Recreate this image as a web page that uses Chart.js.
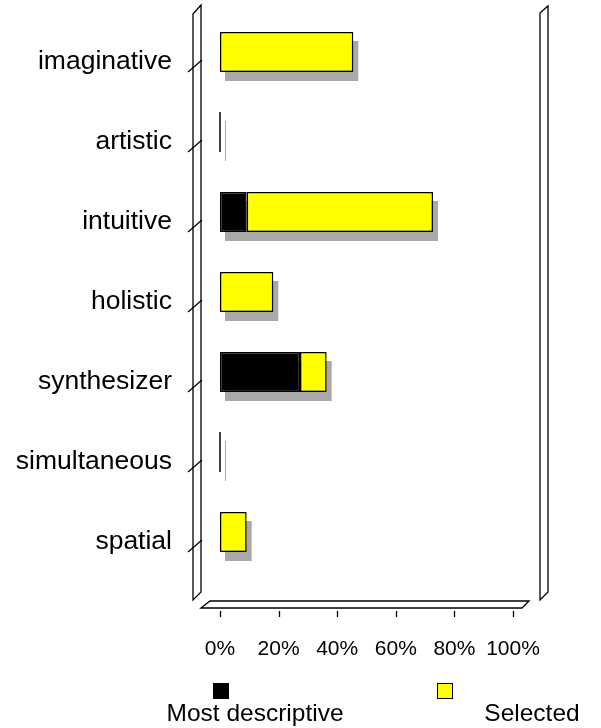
<!DOCTYPE html>
<html>
<head>
<meta charset="utf-8">
<script src="https://cdn.jsdelivr.net/npm/chart.js@4.4.0/dist/chart.umd.min.js"></script>
<style>
  html, body { margin: 0; padding: 0; background: #fff; }
  #wrap { width: 601px; height: 728px; }
</style>
</head>
<body>
<div id="wrap"><canvas id="chart"></canvas></div>
<script>
// data
const categories = ['imaginative', 'artistic', 'intuitive', 'holistic', 'synthesizer', 'simultaneous', 'spatial'];
const mostDescriptive = [0, 0, 9.1, 0, 27.3, 0, 0];
const selected = [45.5, 0, 63.6, 18.2, 9.1, 0, 9.1];
const xTicks = [0, 20, 40, 60, 80, 100];
const seriesNames = ['Most descriptive', 'Selected'];
const seriesColors = ['#000000', '#ffff00'];

const FONT = '"Liberation Sans", Arial, Helvetica, sans-serif';
const SHADOW = '#a9a9a9';

function poly(ctx, pts) {
    ctx.beginPath();
    ctx.moveTo(pts[0][0], pts[0][1]);
    for (let i = 1; i < pts.length; i++) ctx.lineTo(pts[i][0], pts[i][1]);
    ctx.closePath();
    ctx.fill();
    ctx.stroke();
}

// extent of the stacked bar of one category
function barExtent(chart, i) {
    let left = Infinity, right = -Infinity, top = 0, h = 0;
    chart.data.datasets.forEach((ds, d) => {
        const el = chart.getDatasetMeta(d).data[i];
        if (!el) return;
        const p = el.getProps(['x', 'y', 'base', 'height'], true);
        left = Math.min(left, p.base, p.x);
        right = Math.max(right, p.base, p.x);
        top = p.y - p.height / 2;
        h = p.height;
    });
    return { left, right, top, h };
}

// walls, floor, tick marks, shadows, legend
const frame3d = {
    id: 'frame3d',
    beforeDatasetsDraw(chart) {
        const { ctx, chartArea: a, scales } = chart;
        ctx.save();
        ctx.strokeStyle = '#000';
        ctx.fillStyle = '#fff';
        ctx.lineWidth = 1.3;

        poly(ctx, [[a.left - 27, a.top + 2], [a.left - 19, a.top - 7], [a.left - 19, a.bottom + 20], [a.left - 27, a.bottom + 28]]);
        poly(ctx, [[a.right + 27, a.top + 1], [a.right + 35, a.top - 6], [a.right + 35, a.bottom + 20], [a.right + 27, a.bottom + 28]]);
        poly(ctx, [[a.left - 19, a.bottom + 36], [a.left - 10, a.bottom + 29], [a.right + 16, a.bottom + 29], [a.right + 9, a.bottom + 36]]);

        // category marks on the left wall
        categories.forEach((c, i) => {
            const y = scales.y.getPixelForValue(i);
            ctx.beginPath();
            ctx.moveTo(a.left - 32, y + 20);
            ctx.lineTo(a.left - 18, y + 8);
            ctx.stroke();
        });

        // value marks under the floor
        xTicks.forEach(v => {
            const x = Math.round(scales.x.getPixelForValue(v)) + 0.5;
            ctx.beginPath();
            ctx.moveTo(x, a.bottom + 39);
            ctx.lineTo(x, a.bottom + 45);
            ctx.stroke();
        });

        // shadows
        ctx.fillStyle = SHADOW;
        ctx.strokeStyle = SHADOW;
        ctx.lineWidth = 1;
        categories.forEach((c, i) => {
            const e = barExtent(chart, i);
            if (e.right - e.left < 1) {
                ctx.beginPath();
                ctx.moveTo(e.left + 5.5, e.top + 9);
                ctx.lineTo(e.left + 5.5, e.top + 9 + e.h);
                ctx.stroke();
            } else {
                ctx.fillRect(e.left + 5, e.top + 9, e.right - e.left, e.h);
            }
        });
        ctx.restore();
    },
    afterDatasetsDraw(chart) {
        const { ctx } = chart;
        ctx.save();
        ctx.strokeStyle = '#000';
        ctx.lineWidth = 1.5;
        categories.forEach((c, i) => {
            const e = barExtent(chart, i);
            if (e.right - e.left < 1) {
                ctx.beginPath();
                ctx.moveTo(e.left, e.top);
                ctx.lineTo(e.left, e.top + e.h);
                ctx.stroke();
            }
        });
        ctx.restore();
    },
    afterDraw(chart) {
        const { ctx } = chart;
        const boxX = [213, 437];
        const textX = [255, 532];
        ctx.save();
        ctx.font = '24.5px ' + FONT;
        ctx.textAlign = 'center';
        ctx.textBaseline = 'alphabetic';
        seriesNames.forEach((name, k) => {
            ctx.fillStyle = seriesColors[k];
            ctx.strokeStyle = '#000';
            ctx.lineWidth = 1;
            ctx.fillRect(boxX[k], 683, 16, 16);
            ctx.strokeRect(boxX[k] + 0.5, 683.5, 15, 15);
            ctx.fillStyle = '#000';
            ctx.fillText(name, textX[k], 721);
        });
        ctx.restore();
    }
};

new Chart(document.getElementById('chart'), {
    type: 'bar',
    data: {
        labels: categories,
        datasets: [
            { label: seriesNames[0], data: mostDescriptive, backgroundColor: seriesColors[0] },
            { label: seriesNames[1], data: selected, backgroundColor: seriesColors[1] }
        ]
    },
    options: {
        indexAxis: 'y',
        responsive: true,
        maintainAspectRatio: false,
        animation: false,
        layout: { padding: { left: 0, right: 88, top: 12, bottom: 0 } },
        datasets: {
            bar: {
                borderColor: '#000',
                borderWidth: 1.5,
                borderSkipped: false,
                barPercentage: 0.5,
                categoryPercentage: 1.0
            }
        },
        plugins: {
            legend: { display: false },
            tooltip: { enabled: false }
        },
        scales: {
            x: {
                stacked: true,
                min: 0,
                max: 100,
                afterBuildTicks: s => { s.ticks = xTicks.map(v => ({ value: v })); },
                afterFit: s => { s.height = 156; s.paddingLeft = 0; s.paddingRight = 0; },
                grid: { display: false, drawTicks: false },
                border: { display: false },
                ticks: {
                    color: '#000',
                    padding: 65,
                    maxRotation: 0,
                    font: { family: FONT, size: 21 },
                    callback: v => v + '%'
                }
            },
            y: {
                stacked: true,
                afterFit: s => { s.width = 220; s.paddingTop = 0; s.paddingBottom = 0; },
                grid: { display: false, drawTicks: false },
                border: { display: false },
                ticks: {
                    color: '#000',
                    padding: 48,
                    labelOffset: 10,
                    font: { family: FONT, size: 26.5 }
                }
            }
        }
    },
    plugins: [frame3d]
});
</script>
</body>
</html>
